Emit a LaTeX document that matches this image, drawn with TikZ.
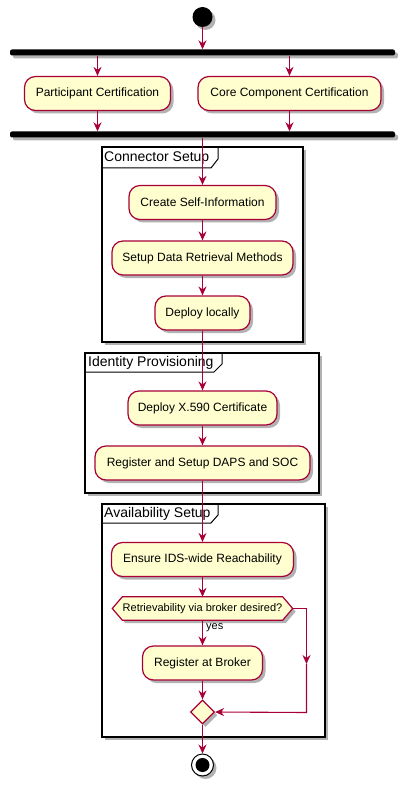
\documentclass[tikz,border=0pt]{standalone}
\usepackage{fontspec}
\setmainfont{Liberation Sans}
\usetikzlibrary{arrows.meta,shapes.geometric,shadows}
\definecolor{umlred}{HTML}{A80036}
\definecolor{umlfill}{HTML}{FEFECE}
\begin{document}
\begin{tikzpicture}[x=1pt,y=-1pt,
		umlshadow/.style={drop shadow={shadow xshift=3pt,shadow yshift=-3pt,opacity=.3,fill=black}},
		act/.style={draw=umlred,line width=1.2pt,fill=umlfill,rounded corners=11pt,minimum height=34pt,inner sep=0pt,font=\fontsize{12}{14}\selectfont,umlshadow},
		flow/.style={draw=umlred,line width=1.1pt,-{Stealth[length=9pt,width=8pt,inset=3pt]}},
		bar/.style={fill=black,rounded corners=2pt,minimum width=385pt,minimum height=6pt,inner sep=0pt,umlshadow},
		frame/.style={draw=black,line width=1.6pt,fill=white,umlshadow},
		tab/.style={draw=black,line width=1pt},
		grouplabel/.style={anchor=west,inner sep=0pt,font=\fontsize{14}{16}\selectfont},
		small/.style={inner sep=0pt,font=\fontsize{11}{13}\selectfont}]
	\useasboundingbox (0,0) rectangle (405,786);
	\draw[frame] (102,147) rectangle (303,342);
	\draw[tab] (102,168) -- (211,168) -- (218,159) -- (218,147);
	\node[grouplabel] (csetup) at (104,158) {Connector Setup};
	\draw[frame] (85,353) rectangle (319,493);
	\draw[tab] (85,372) -- (214,372) -- (222,364) -- (222,353);
	\node[grouplabel] (idprov) at (88,363) {Identity Provisioning};
	\draw[frame] (102,504) rectangle (325,737);
	\draw[tab] (102,523) -- (211,523) -- (218,515) -- (218,504);
	\node[grouplabel] (avail) at (104,514) {Availability Setup};
	\node[circle,fill=black,minimum size=20pt,inner sep=0pt,umlshadow] (start) at (202.5,17) {};
	\node[bar] (fork) at (202.5,52.5) {};
	\node[act,minimum width=146pt] (pc) at (97.5,93.5) {Participant Certification};
	\node[act,minimum width=183pt] (cc) at (289.5,93.5) {Core Component Certification};
	\node[bar] (join) at (202.5,134.5) {};
	\node[act,minimum width=147pt] (csi) at (202.5,202.5) {Create Self-Information};
	\node[act,minimum width=181pt] (sdr) at (202.5,258) {Setup Data Retrieval Methods};
	\node[act,minimum width=95pt] (dl) at (202.5,313) {Deploy locally};
	\node[act,minimum width=149pt] (dx) at (202.5,408) {Deploy X.590 Certificate};
	\node[act,minimum width=215pt] (rds) at (202.5,463) {Register and Setup DAPS and SOC};
	\node[act,minimum width=182pt] (eir) at (202.5,559.5) {Ensure IDS-wide Reachability};
	\node[minimum width=180pt,minimum height=23pt,inner sep=0pt] (dec) at (202.5,608.5) {};
	\draw[draw=umlred,line width=1.2pt,fill=umlfill,umlshadow] (dec.west) -- ([xshift=10pt]dec.north west) -- ([xshift=-10pt]dec.north east) -- (dec.east) -- ([xshift=-10pt]dec.south east) -- ([xshift=10pt]dec.south west) -- cycle;
	\node[small] (dectext) at (dec) {Retrievability via broker desired?};
	\node[small,anchor=west] (yes) at (206,628) {yes};
	\node[act,minimum width=120pt] (rbk) at (202.5,663) {Register at Broker};
	\node[diamond,draw=umlred,line width=1.2pt,fill=umlfill,minimum width=24pt,minimum height=24pt,inner sep=0pt,umlshadow] (merge) at (202.5,712) {};
	\node[circle,draw=black,line width=1pt,fill=white,minimum size=22pt,inner sep=0pt,umlshadow] (stop) at (202.5,765) {};
	\node[circle,fill=black,minimum size=14pt,inner sep=0pt] (stopdot) at (stop) {};
	\coordinate (decr) at (306.5,608.5);
	\coordinate (decm) at (306.5,664);
	\coordinate (merger) at (306.5,712.5);
	\draw[flow] (start) -- (fork);
	\draw[flow] (fork.south -| pc) -- (pc);
	\draw[flow] (fork.south -| cc) -- (cc);
	\draw[flow] (pc) -- (pc |- join.north);
	\draw[flow] (cc) -- (cc |- join.north);
	\draw[flow] (join) -- (csi);
	\draw[flow] (csi) -- (sdr);
	\draw[flow] (sdr) -- (dl);
	\draw[flow] (dl) -- (dx);
	\draw[flow] (dx) -- (rds);
	\draw[flow] (rds) -- (eir);
	\draw[flow] (eir) -- (dec.north);
	\draw[flow] (dec.south) -- (rbk);
	\draw[flow] (rbk) -- (merge);
	\draw[flow] (dec.east) -- (decr) -- (decm);
	\draw[flow] (decm) -- (merger) -- (merge.east);
	\draw[flow] (merge) -- (stop);
\end{tikzpicture}
\end{document}
